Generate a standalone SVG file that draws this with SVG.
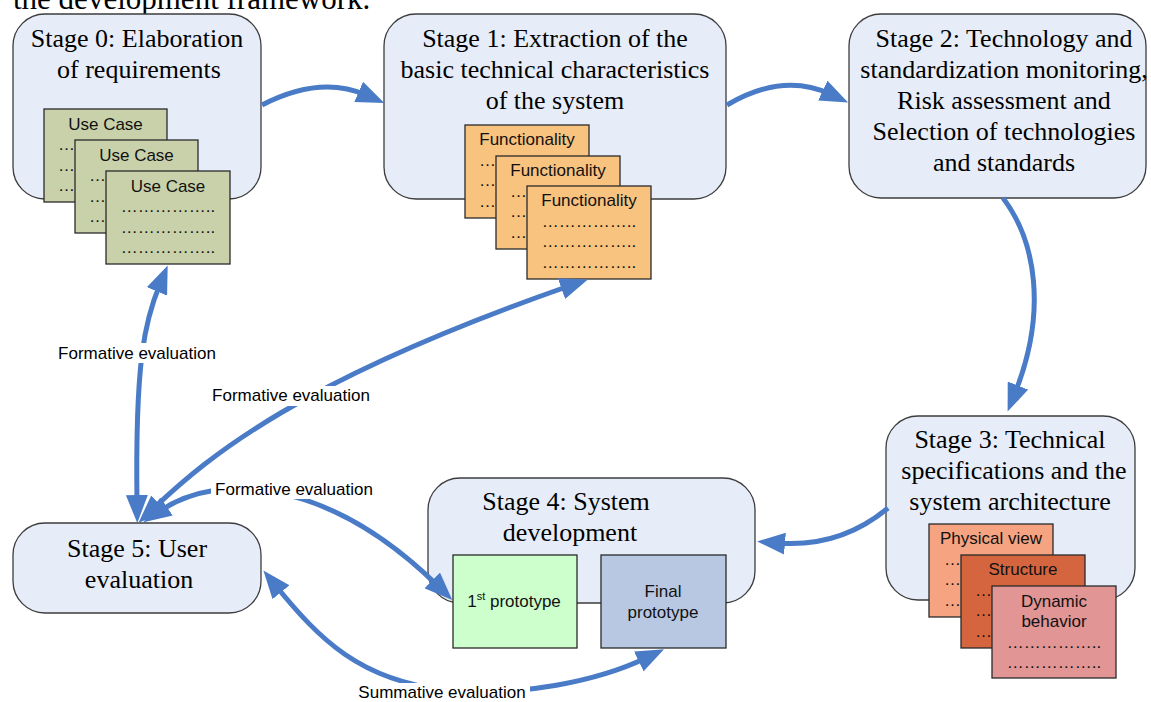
<svg xmlns="http://www.w3.org/2000/svg" width="1151" height="702" viewBox="0 0 1151 702">
<style>
.stage{fill:#e6edf8;stroke:#3c3c3c;stroke-width:1.3}
.st{font-family:"Liberation Serif","Times New Roman",serif;font-size:26px;fill:#000;text-anchor:middle}
.card{stroke:#2a2a2a;stroke-width:1.3}
.ct{font-family:"Liberation Sans",Arial,sans-serif;font-size:17px;fill:#111;text-anchor:middle}
.cd{font-family:"Liberation Sans",Arial,sans-serif;font-size:17px;fill:#111}
.lbl{font-family:"Liberation Sans",Arial,sans-serif;font-size:17px;fill:#000;text-anchor:middle}
.con{fill:none;stroke:#4a7bc7;stroke-width:5}
.uc{fill:#c9d1aa}
.fn{fill:#f8c27f}
.pv{fill:#f5a380}
.sr{fill:#d5653f}
.db{fill:#e19595}
</style>
<defs>
<marker id="ah" viewBox="0 0 28 22" markerWidth="28" markerHeight="22" refX="8" refY="11" orient="auto-start-reverse" markerUnits="userSpaceOnUse">
<path d="M0,0 L28,11 L0,22 z" fill="#4a7bc7"/>
</marker>
</defs>
<rect width="1151" height="702" fill="#fff"/>
<text x="13" y="9" font-family="Liberation Serif,Times New Roman,serif" font-size="31">the development framework.</text>

<g id="stage0">
<rect class="stage" x="13" y="14" width="248" height="185" rx="32"/>
<text class="st" x="137" y="47">Stage 0: Elaboration</text>
<text class="st" x="139" y="78">of requirements</text>
</g>
<g id="usecase1">
<rect class="card uc" x="44" y="109" width="123" height="93"/>
<text class="ct" x="105.5" y="130">Use Case</text>
<text class="cd" x="58" y="150">…</text>
<text class="cd" x="58" y="171">…</text>
<text class="cd" x="58" y="191">…</text>
</g>
<g id="usecase2">
<rect class="card uc" x="75" y="140" width="123" height="93"/>
<text class="ct" x="136.5" y="161">Use Case</text>
<text class="cd" x="89" y="181">…</text>
<text class="cd" x="89" y="202">…</text>
<text class="cd" x="89" y="222">…</text>
</g>
<g id="usecase3">
<rect class="card uc" x="106" y="171" width="124" height="93"/>
<text class="ct" x="168" y="192">Use Case</text>
<text class="ct" x="168" y="212">……………..</text>
<text class="ct" x="168" y="233">……………..</text>
<text class="ct" x="168" y="253">……………..</text>
</g>

<g id="stage1">
<rect class="stage" x="384" y="14" width="342" height="185" rx="32"/>
<text class="st" x="555" y="47">Stage 1: Extraction of the</text>
<text class="st" x="555" y="78">basic technical characteristics</text>
<text class="st" x="555" y="109">of the system</text>
</g>
<g id="func1">
<rect class="card fn" x="465" y="125" width="124" height="93"/>
<text class="ct" x="527" y="145">Functionality</text>
<text class="cd" x="479" y="166">…</text>
<text class="cd" x="479" y="186">…</text>
<text class="cd" x="479" y="207">…</text>
</g>
<g id="func2">
<rect class="card fn" x="496" y="156" width="124" height="93"/>
<text class="ct" x="558" y="176">Functionality</text>
<text class="cd" x="510" y="197">…</text>
<text class="cd" x="510" y="217">…</text>
<text class="cd" x="510" y="238">…</text>
</g>
<g id="func3">
<rect class="card fn" x="527" y="186" width="124" height="93"/>
<text class="ct" x="589" y="206">Functionality</text>
<text class="ct" x="589" y="227">……………..</text>
<text class="ct" x="589" y="247">……………..</text>
<text class="ct" x="589" y="268">……………..</text>
</g>

<g id="stage2">
<rect class="stage" x="849" y="14" width="297" height="184" rx="32"/>
<text class="st" x="1004" y="47">Stage 2: Technology and</text>
<text class="st" x="1004" y="78">standardization monitoring,</text>
<text class="st" x="1004" y="109">Risk assessment and</text>
<text class="st" x="1004" y="140">Selection of technologies</text>
<text class="st" x="1004" y="171">and standards</text>
</g>

<g id="stage3">
<rect class="stage" x="886" y="416" width="249" height="184" rx="32"/>
<text class="st" x="1010" y="448">Stage 3: Technical</text>
<text class="st" x="1014" y="479">specifications and the</text>
<text class="st" x="1010" y="510">system architecture</text>
</g>
<g id="physical">
<rect class="card pv" x="929" y="524" width="124" height="93"/>
<text class="ct" x="991" y="544">Physical view</text>
<text class="cd" x="944" y="565">…</text>
<text class="cd" x="944" y="585">…</text>
<text class="cd" x="944" y="606">…</text>
</g>
<g id="structure">
<rect class="card sr" x="961" y="555" width="124" height="93"/>
<text class="ct" x="1023" y="575">Structure</text>
<text class="cd" x="975" y="596">…</text>
<text class="cd" x="975" y="616">…</text>
<text class="cd" x="975" y="637">…</text>
</g>
<g id="dynamic">
<rect class="card db" x="992" y="586" width="124" height="92"/>
<text class="ct" x="1054" y="607">Dynamic</text>
<text class="ct" x="1054" y="627">behavior</text>
<text class="ct" x="1054" y="648">……………..</text>
<text class="ct" x="1054" y="668">……………..</text>
</g>

<g id="stage4">
<rect class="stage" x="428" y="478" width="327" height="125" rx="32"/>
<text class="st" x="566" y="510">Stage 4: System</text>
<text class="st" x="570" y="541">development</text>
</g>
<g id="proto1">
<rect class="card" fill="#ccffcc" x="453" y="555" width="124" height="93"/>
<text class="ct" x="514" y="607">1<tspan dy="-7" font-size="11">st</tspan><tspan dy="7"> prototype</tspan></text>
</g>
<g id="protofinal">
<rect class="card" fill="#b8c8e2" x="601" y="555" width="125" height="93"/>
<text class="ct" x="663" y="597">Final</text>
<text class="ct" x="663" y="618">prototype</text>
</g>

<g id="stage5">
<rect class="stage" x="13" y="523" width="248" height="90" rx="32"/>
<text class="st" x="137" y="557">Stage 5: User</text>
<text class="st" x="139" y="588">evaluation</text>
</g>

<g id="connectors">
<path class="con" d="M262,105 Q320,75 366,95" marker-end="url(#ah)"/>
<path class="con" d="M727,105 Q783,72 830,94" marker-end="url(#ah)"/>
<path class="con" d="M1003,198 C1035,240 1048,310 1015,393" marker-end="url(#ah)"/>
<path class="con" d="M888,508 Q840,548 777,543" marker-end="url(#ah)"/>
<path class="con" d="M160,284 C145,320 135,360 137,503" marker-start="url(#ah)" marker-end="url(#ah)"/>
<path class="con" d="M153,509 C210,455 300,380 569,286" marker-start="url(#ah)" marker-end="url(#ah)"/>
<path class="con" d="M160,511 C220,470 330,480 438,586" marker-start="url(#ah)" marker-end="url(#ah)"/>
<path class="con" d="M276,586 C320,640 360,680 445,690 C520,698 600,680 646,658" marker-start="url(#ah)" marker-end="url(#ah)"/>
<rect x="55" y="343" width="164" height="20" fill="#fff"/>
<text class="lbl" x="137" y="359">Formative evaluation</text>
<rect x="209" y="386" width="165" height="20" fill="#fff"/>
<text class="lbl" x="291" y="401">Formative evaluation</text>
<rect x="211" y="479" width="166" height="20" fill="#fff"/>
<text class="lbl" x="294" y="495">Formative evaluation</text>
<rect x="355" y="683" width="175" height="19" fill="#fff"/>
<text class="lbl" x="442" y="698">Summative evaluation</text>
</g>
</svg>
